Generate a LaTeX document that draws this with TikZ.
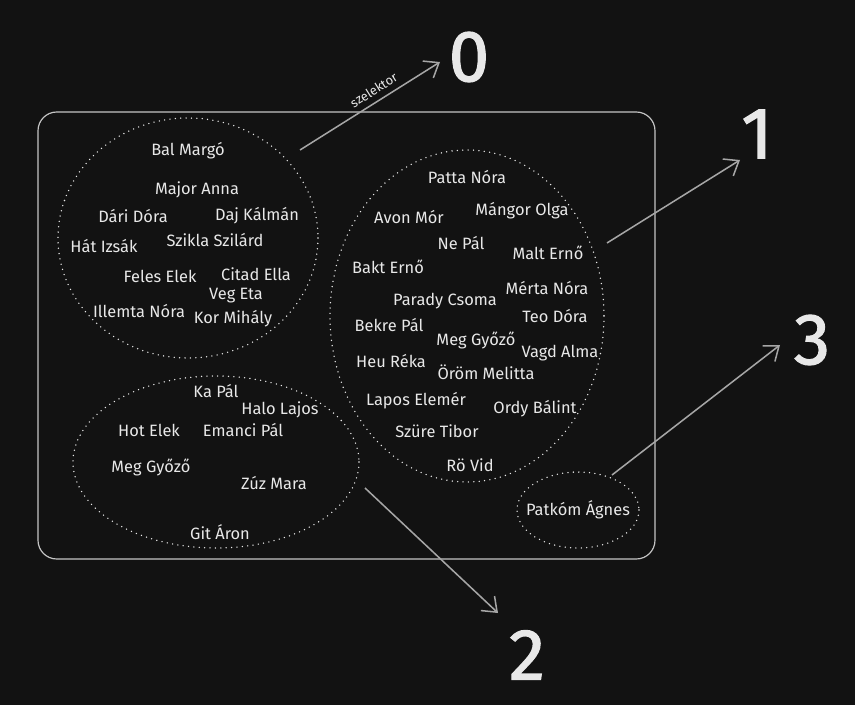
\documentclass[tikz,border=0pt]{standalone}
\usepackage{fontspec}
\setmainfont{Fira Sans}
\usetikzlibrary{arrows.meta}

\definecolor{bg}{HTML}{121212}
\definecolor{ink}{HTML}{E8E8E8}
\definecolor{wire}{HTML}{A6A6A6}

\tikzset{
  person/.style={
    text=ink,
    font=\fontsize{14}{16}\selectfont,
    inner sep=0pt
  },
  group/.style={
    draw=ink,
    line width=1.3pt,
    line cap=round,
    dash pattern=on 0pt off 4.6pt
  },
  frame/.style={
    draw=ink!85!black,
    line width=1pt,
    rounded corners=16pt
  },
  sel/.style={
    draw=wire,
    line width=1.3pt,
    -{Straight Barb[length=11pt,width=17pt]}
  },
  digit/.style={
    text=ink,
    font=\fontsize{62}{62}\selectfont\addfontfeatures{FakeBold=1.6},
    inner sep=0pt
  }
}

\begin{document}
\begin{tikzpicture}[x=0.03cm,y=-0.03cm]
  \path[fill=bg] (0,0) rectangle (855,705);
  \useasboundingbox (0,0) rectangle (855,705);

  \draw[frame] (38,112) rectangle (655,559);

  \draw[group] (188,238) ellipse [x radius=130, y radius=120];
  \draw[group] (467,316) ellipse [x radius=137, y radius=166];
  \draw[group] (216,462) ellipse [x radius=143, y radius=86];
  \draw[group] (578,510) ellipse [x radius=61, y radius=38];

  \node[person] (a1) at (188,151) {Bal Margó};
  \node[person] (a2) at (197,190) {Major Anna};
  \node[person] (a3) at (133,216) {Dári Dóra};
  \node[person] (a4) at (257,216) {Daj Kálmán};
  \node[person] (a5) at (104,246) {Hát Izsák};
  \node[person] (a6) at (215,240) {Szikla Szilárd};
  \node[person] (a7) at (160,276) {Feles Elek};
  \node[person] (a8) at (256,274) {Citad Ella};
  \node[person] (a9) at (236,296) {Veg Eta};
  \node[person] (a10) at (139,311) {Illemta Nóra};
  \node[person] (a11) at (233,319) {Kor Mihály};

  \node[person] (b1) at (467,177) {Patta Nóra};
  \node[person] (b2) at (409,217) {Avon Mór};
  \node[person] (b3) at (522,211) {Mángor Olga};
  \node[person] (b4) at (461,243) {Ne Pál};
  \node[person] (b5) at (548,253) {Malt Ernő};
  \node[person] (b6) at (388,267) {Bakt Ernő};
  \node[person] (b7) at (547,288) {Mérta Nóra};
  \node[person] (b8) at (445,301) {Parady Csoma};
  \node[person] (b9) at (555,316) {Teo Dóra};
  \node[person] (b10) at (389,325) {Bekre Pál};
  \node[person] (b11) at (476,340) {Meg Győző};
  \node[person] (b12) at (560,353) {Vagd Alma};
  \node[person] (b13) at (391,361) {Heu Réka};
  \node[person] (b14) at (486,372) {Öröm Melitta};
  \node[person] (b15) at (416,401) {Lapos Elemér};
  \node[person] (b16) at (535,409) {Ordy Bálint};
  \node[person] (b17) at (437,431) {Szüre Tibor};
  \node[person] (b18) at (470,465) {Rö Vid};

  \node[person] (c1) at (216,391) {Ka Pál};
  \node[person] (c2) at (280,410) {Halo Lajos};
  \node[person] (c3) at (149,430) {Hot Elek};
  \node[person] (c4) at (243,430) {Emanci Pál};
  \node[person] (c5) at (151,467) {Meg Győző};
  \node[person] (c6) at (274,483) {Zúz Mara};
  \node[person] (c7) at (220,532) {Git Áron};

  \node[person] (d1) at (578,510) {Patkóm Ágnes};

  \node[digit] (n0) at (469,57) {0};
  \node[digit] (n1) at (757,134) {1};
  \node[digit] (n2) at (527,655) {2};
  \node[digit] (n3) at (812,340) {3};

  \coordinate (s0) at (300,150);
  \coordinate (t0) at (440,62);
  \coordinate (s1) at (607,243);
  \coordinate (t1) at (740,160);
  \coordinate (s2) at (365,488);
  \coordinate (t2) at (498,613);
  \coordinate (s3) at (612,475);
  \coordinate (t3) at (780,345);

  \draw[sel] (s0) -- node[pos=0.57, above=5pt, sloped, text=ink, font=\fontsize{11}{13}\selectfont, inner sep=0pt] {szelektor} (t0);
  \draw[sel] (s1) -- (t1);
  \draw[sel] (s2) -- (t2);
  \draw[sel] (s3) -- (t3);
\end{tikzpicture}
\end{document}
